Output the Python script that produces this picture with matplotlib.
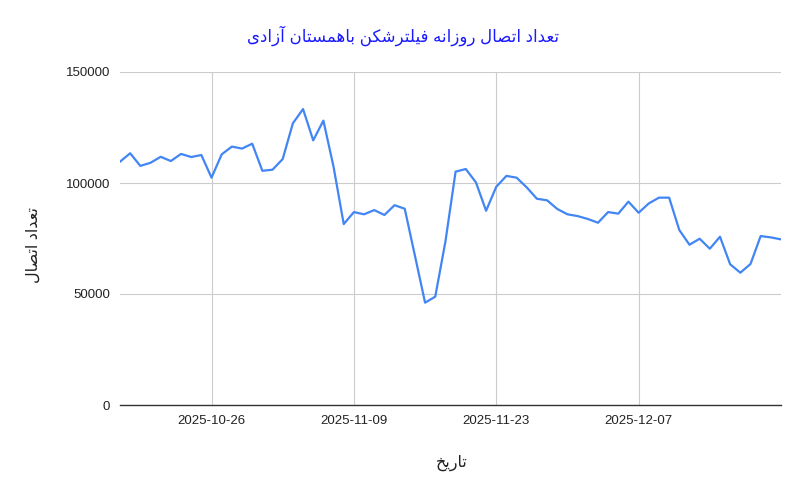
import matplotlib
matplotlib.use("Agg")
import matplotlib.pyplot as plt
import matplotlib.dates as mdates
import numpy as np
import pandas as pd

# daily connection counts, 2025-10-17 .. 2025-12-21
start_date = "2025-10-17"
counts = [109600, 113400, 107700, 109100, 111800, 109900, 113100, 111700, 112600, 102400,
          112900, 116400, 115500, 117700, 105500, 106000, 110800, 126900, 133300, 119200,
          128100, 107300, 81500, 86900, 85900, 87800, 85600, 90000, 88400, 67300,
          46100, 48800, 73600, 105100, 106300, 100300, 87500, 98300, 103200, 102400,
          98000, 92900, 92200, 88300, 85900, 85100, 83800, 82100, 86900, 86200,
          91600, 86600, 90800, 93400, 93400, 78800, 72200, 74900, 70400, 75800,
          63400, 59600, 63500, 76100, 75500, 74600]
dates = pd.date_range(start_date, periods=len(counts), freq="D")

tick_dates = ["2025-10-26", "2025-11-09", "2025-11-23", "2025-12-07"]
y_ticks = [0, 50000, 100000, 150000]

title = "تعداد اتصال روزانه فیلترشکن باهمستان آزادی"
y_label = "تعداد اتصال"
x_label = "تاریخ"

# matplotlib has no arabic shaping, so pick presentation forms by hand
# (isolated, final, initial, medial); None = letter does not join to the next one
FORMS = {
    "ا": ("\uFE8D", "\uFE8E", None, None),
    "آ": ("\uFE81", "\uFE82", None, None),
    "ب": ("\uFE8F", "\uFE90", "\uFE91", "\uFE92"),
    "ت": ("\uFE95", "\uFE96", "\uFE97", "\uFE98"),
    "خ": ("\uFEA5", "\uFEA6", "\uFEA7", "\uFEA8"),
    "د": ("\uFEA9", "\uFEAA", None, None),
    "ر": ("\uFEAD", "\uFEAE", None, None),
    "ز": ("\uFEAF", "\uFEB0", None, None),
    "س": ("\uFEB1", "\uFEB2", "\uFEB3", "\uFEB4"),
    "ش": ("\uFEB5", "\uFEB6", "\uFEB7", "\uFEB8"),
    "ص": ("\uFEB9", "\uFEBA", "\uFEBB", "\uFEBC"),
    "ع": ("\uFEC9", "\uFECA", "\uFECB", "\uFECC"),
    "ف": ("\uFED1", "\uFED2", "\uFED3", "\uFED4"),
    "ل": ("\uFEDD", "\uFEDE", "\uFEDF", "\uFEE0"),
    "م": ("\uFEE1", "\uFEE2", "\uFEE3", "\uFEE4"),
    "ن": ("\uFEE5", "\uFEE6", "\uFEE7", "\uFEE8"),
    "ه": ("\uFEE9", "\uFEEA", "\uFEEB", "\uFEEC"),
    "و": ("\uFEED", "\uFEEE", None, None),
    "ی": ("\uFBFC", "\uFBFD", "\uFBFE", "\uFBFF"),
    "ک": ("\uFB8E", "\uFB8F", "\uFB90", "\uFB91"),
}


def shape(text):
    out = []
    for i, ch in enumerate(text):
        if ch not in FORMS:
            out.append(ch)
            continue
        prev = text[i - 1] if i > 0 else " "
        nxt = text[i + 1] if i + 1 < len(text) else " "
        join_prev = prev in FORMS and FORMS[prev][2] is not None
        join_next = nxt in FORMS and FORMS[ch][2] is not None
        iso, fin, ini, med = FORMS[ch]
        if join_prev and join_next:
            out.append(med)
        elif join_prev:
            out.append(fin)
        elif join_next:
            out.append(ini)
        else:
            out.append(iso)
    return "".join(out)[::-1]


fonts = ["Liberation Sans", "DejaVu Sans"]
plt.rcParams["font.family"] = fonts

fig = plt.figure(figsize=(8.07, 4.99), dpi=100)
ax = fig.add_axes([120 / 807, 1 - 405 / 499, 661 / 807, 333 / 499])

ax.plot(dates, counts, color="#4285F4", linewidth=1.6)

ax.set_xlim(dates[0], dates[-1])
ax.set_ylim(0, 150000)
ax.set_yticks(y_ticks)
ax.set_xticks(pd.to_datetime(tick_dates))
ax.xaxis.set_major_formatter(mdates.DateFormatter("%Y-%m-%d"))

ax.grid(True, color="#cccccc", linewidth=0.8)
ax.set_axisbelow(True)
for s in ["top", "right", "left"]:
    ax.spines[s].set_visible(False)
ax.spines["bottom"].set_color("#333333")
ax.spines["bottom"].set_linewidth(1.0)
ax.spines["bottom"].set_zorder(3)
ax.tick_params(length=0, labelsize=9.5, colors="#222222", pad=7)

fig.text(0.5, 1 - 36 / 499, shape(title), ha="center", va="center",
         fontsize=12, color="#1a1aff")
fig.text(33 / 807, 1 - 245 / 499, shape(y_label), ha="center", va="center",
         rotation=90, fontsize=11.5, color="#222222")
fig.text(452 / 807, 1 - 463 / 499, shape(x_label), ha="center", va="center",
         fontsize=11.5, color="#222222")

fig.savefig("out.png", dpi=100)
